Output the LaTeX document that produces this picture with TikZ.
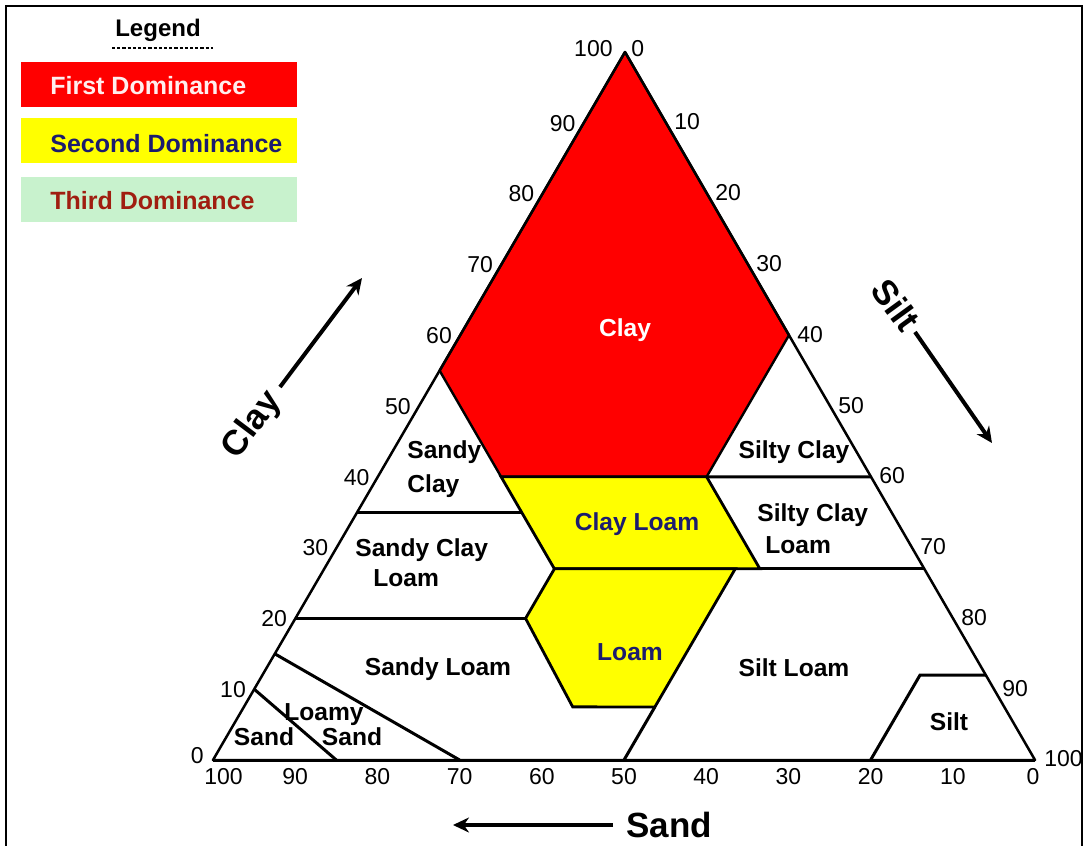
\documentclass[tikz,border=0pt]{standalone}
\usepackage{fontspec}
\setmainfont{Liberation Sans}
\usetikzlibrary{arrows.meta}
\definecolor{claybg}{RGB}{255,0,0}
\definecolor{loambg}{RGB}{255,255,0}
\definecolor{thirdbg}{RGB}{200,242,205}
\definecolor{navytxt}{RGB}{28,28,110}
\definecolor{bricktxt}{RGB}{160,30,16}
\definecolor{pinkw}{RGB}{255,238,238}
\begin{document}
\begin{tikzpicture}[x=0.5pt,y=-0.5pt,
  edge/.style={line width=1.25pt, line join=round},
  bound/.style={line width=1.5pt},
  num/.style={font=\fontsize{11.5}{12}\selectfont, inner sep=0pt, text height=8.2pt, text depth=0pt},
  reg/.style={font=\bfseries\fontsize{12.3}{14}\selectfont, inner sep=0pt, text height=8.8pt, text depth=0pt},
  axlbl/.style={font=\bfseries\fontsize{17.5}{20}\selectfont, inner sep=0pt, text height=12.5pt, text depth=0pt},
  bigarrow/.style={line width=2pt, -{Stealth[length=8pt,width=7.5pt]}},
  legbox/.style={draw=none, minimum width=138pt, minimum height=22.5pt, inner sep=0pt, anchor=north west},
  legtxt/.style={font=\bfseries\fontsize{12.5}{14}\selectfont, inner sep=0pt, anchor=west, text height=9pt, text depth=0pt}
]
\useasboundingbox (0,0) rectangle (1088,846);
\fill[white] (0,0) rectangle (1088,846);
% frame
\draw[line width=1pt] (6,846) -- (6,6) -- (1082,6) -- (1082,846);

% legend
\node[font=\bfseries\fontsize{12}{14}\selectfont, inner sep=0pt, text height=8.6pt, text depth=0pt] (legtitle) at (158,28) {Legend};
\draw[line width=0.7pt, dash pattern=on 1.6pt off 1pt] (112,48) -- (213,48);
\node[legbox, fill=claybg] (leg1) at (21,62) {};
\node[legbox, fill=loambg] (leg2) at (21,118) {};
\node[legbox, fill=thirdbg] (leg3) at (21,177) {};
\node[legtxt, text=pinkw] (leg1t) at (50,85) {First Dominance};
\node[legtxt, text=navytxt] (leg2t) at (50,143) {Second Dominance};
\node[legtxt, text=bricktxt] (leg3t) at (50,200) {Third Dominance};

% triangle corners
\coordinate (T) at (625,52);
\coordinate (L) at (213,760);
\coordinate (R) at (1035,760);
% vertices (clay, sand, silt) as fractions
\coordinate (A1) at (barycentric cs:T=0.55,L=0.45,R=0);
\coordinate (A2) at (barycentric cs:T=0.40,L=0.45,R=0.15);
\coordinate (A3) at (barycentric cs:T=0.40,L=0.20,R=0.40);
\coordinate (A4) at (barycentric cs:T=0.60,L=0,R=0.40);
\coordinate (B1) at (barycentric cs:T=0.35,L=0.65,R=0);
\coordinate (B2) at (barycentric cs:T=0.35,L=0.45,R=0.20);
\coordinate (C1) at (barycentric cs:T=0.40,L=0,R=0.60);
\coordinate (D1) at (barycentric cs:T=0.27,L=0.45,R=0.28);
\coordinate (D2) at (barycentric cs:T=0.27,L=0.23,R=0.50);
\coordinate (D3) at (barycentric cs:T=0.27,L=0.20,R=0.53);
\coordinate (D4) at (barycentric cs:T=0.27,L=0,R=0.73);
\coordinate (E1) at (barycentric cs:T=0.20,L=0.80,R=0);
\coordinate (E2) at (barycentric cs:T=0.20,L=0.52,R=0.28);
\coordinate (F1) at (barycentric cs:T=0.075,L=0.525,R=0.40);
\coordinate (F2) at (barycentric cs:T=0.075,L=0.425,R=0.50);
\coordinate (G0) at (barycentric cs:T=0,L=0.50,R=0.50);
\coordinate (H1) at (barycentric cs:T=0.15,L=0.85,R=0);
\coordinate (H2) at (barycentric cs:T=0,L=0.70,R=0.30);
\coordinate (I1) at (barycentric cs:T=0.10,L=0.90,R=0);
\coordinate (I2) at (barycentric cs:T=0,L=0.85,R=0.15);
\coordinate (J1) at (barycentric cs:T=0.12,L=0.08,R=0.80);
\coordinate (J2) at (barycentric cs:T=0.12,L=0,R=0.88);
\coordinate (J3) at (barycentric cs:T=0,L=0.20,R=0.80);

% filled regions
\filldraw[fill=claybg, line width=1.2pt, line join=round] (T) -- (A1) -- (A2) -- (A3) -- (A4) -- cycle;
\filldraw[fill=loambg, line width=1.4pt] (A2) -- (D1) -- (D3) -- (A3) -- cycle;
\filldraw[fill=loambg, line width=1.4pt] (D1) -- (E2) -- (F1) -- (F2) -- (D2) -- cycle;

% boundaries
\draw[bound] (B1) -- (B2);
\draw[bound] (A3) -- (C1);
\draw[bound] (D3) -- (D4);
\draw[bound] (E1) -- (E2);
\draw[bound] (F2) -- (G0);
\draw[bound] (H1) -- (H2);
\draw[bound] (I1) -- (I2);
\draw[bound] (J3) -- (J1) -- (J2);

% triangle
\draw[edge] (T) -- (L) -- (R) -- cycle;
\draw[bound] (L) -- (R);

% axis numbers
\foreach \c [evaluate=\c as \fc using \c/100, evaluate=\c as \fs using 1-\c/100] in {10,20,...,90}
  \node[num, anchor=east, xshift=-4pt] (cl\c) at (barycentric cs:T=\fc,L=\fs,R=0) {\c};
\foreach \t [evaluate=\t as \ft using \t/100, evaluate=\t as \fc using 1-\t/100] in {10,20,...,90}
  \node[num, anchor=west, xshift=4pt, yshift=0.5pt] (si\t) at (barycentric cs:T=\fc,L=0,R=\ft) {\t};
\foreach \s [evaluate=\s as \fs using \s/100, evaluate=\s as \ft using 1-\s/100] in {90,80,...,10}
  \node[num, anchor=north, yshift=-4pt] (sa\s) at (barycentric cs:T=0,L=\fs,R=\ft) {\s};
\node[num, anchor=east] (cl100) at (613,48) {100};
\node[num, anchor=west] (si0) at (631,48) {0};
\node[num, anchor=east] (cl0) at (204,755) {0};
\node[num, anchor=north west] (sa100) at (204,768) {100};
\node[num, anchor=west] (si100) at (1044,758) {100};
\node[num, anchor=north] (sa0) at (1033,768) {0};

% region labels
\node[reg, text=white] (rclay) at (625,328) {Clay};
\node[reg, anchor=west] (rsc1) at (407,450) {Sandy};
\node[reg, anchor=west] (rsc2) at (407,484) {Clay};
\node[reg, anchor=west] (rscl1) at (355,548) {Sandy Clay};
\node[reg, anchor=west] (rscl2) at (373,578) {Loam};
\node[reg] (rsic) at (794,450) {Silty Clay};
\node[reg, anchor=west] (rsicl1) at (757,513) {Silty Clay};
\node[reg, anchor=west] (rsicl2) at (765,545) {Loam};
\node[reg, text=navytxt] (rcl) at (637,522) {Clay Loam};
\node[reg, text=navytxt] (rloam) at (630,652) {Loam};
\node[reg] (rsl) at (438,667) {Sandy Loam};
\node[reg] (rsil) at (794,668) {Silt Loam};
\node[reg] (rsilt) at (949,722) {Silt};
\node[reg] (rls1) at (324,712) {Loamy};
\node[reg] (rls2) at (352,737) {Sand};
\node[reg] (rsand) at (264,737) {Sand};

% axis titles and arrows
\node[axlbl, rotate=53] (tclay) at (250,423) {Clay};
\node[axlbl, rotate=-54] (tsilt) at (896,305) {Silt};
\node[axlbl] (tsand) at (669,825) {Sand};
\coordinate (ca1) at (280,387);
\coordinate (ca2) at (362,278);
\coordinate (sa1) at (915,332);
\coordinate (sa2) at (992,443);
\coordinate (da1) at (613,825);
\coordinate (da2) at (453,825);
\draw[bigarrow] (ca1) -- (ca2);
\draw[bigarrow] (sa1) -- (sa2);
\draw[bigarrow] (da1) -- (da2);
\end{tikzpicture}
\end{document}
